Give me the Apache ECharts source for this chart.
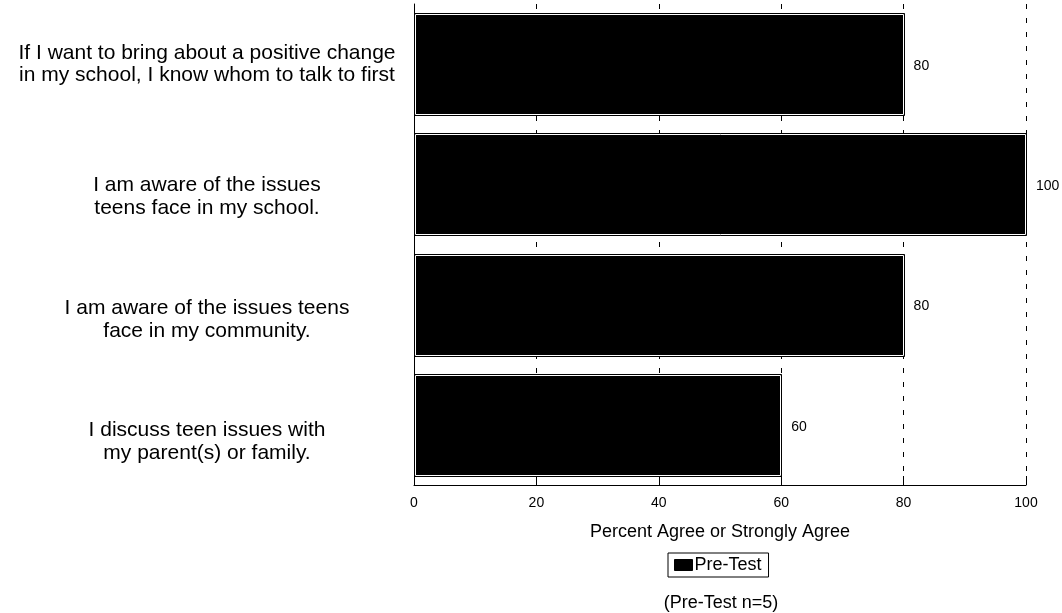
<!DOCTYPE html>
<html>
<head>
<meta charset="utf-8">
<script src="https://cdn.jsdelivr.net/npm/echarts@6/dist/echarts.min.js"></script>
<style>html,body{margin:0;padding:0;background:#fff}#c{width:1062px;height:613px}</style>
</head>
<body>
<div id="c"></div>
<script>
const categories = [
  "If I want to bring about a positive change\nin my school, I know whom to talk to first",
  "I am aware of the issues\nteens face in my school.",
  "I am aware of the issues teens\nface in my community.",
  "I discuss teen issues with\nmy parent(s) or family."
];
const preTest = [80, 100, 80, 60];
const seriesName = "Pre-Test";
const axisTitle = "Percent Agree or Strongly Agree";
const noteText = "(Pre-Test n=5)";
const labelShift = [0, 11, 14, 16];
const labelLineHeight = [23, 25, 25, 25];

const FONT = '"Liberation Sans", Arial, sans-serif';
const LBL = { fontFamily: FONT, fontSize: 21, color: '#000', align: 'center' };
const chart = echarts.init(document.getElementById('c'));

const rich = {};
labelShift.forEach((s, i) => {
  const L = labelLineHeight[i];
  rich['t' + i] = Object.assign({}, LBL, { lineHeight: L + 2 * s, verticalAlign: 'bottom' });
  rich['n' + i] = Object.assign({}, LBL, { lineHeight: L });
});

chart.setOption({
  animation: false,
  color: ['#000'],
  title: {
    text: noteText,
    left: 716, top: 589, textAlign: 'center',
    textStyle: { fontFamily: FONT, fontSize: 18, fontWeight: 'normal', color: '#000' }
  },
  legend: {
    data: [seriesName],
    left: 668, top: 553,
    borderColor: '#000', borderWidth: 1, borderRadius: 0,
    padding: [3, 7, 3, 6],
    itemWidth: 18, itemHeight: 11, icon: 'rect',
    itemStyle: { color: '#000', borderColor: '#000', borderWidth: 1 },
    textStyle: { fontFamily: FONT, fontSize: 18, color: '#000', padding: [0, 0, 0, -3] }
  },
  grid: { left: 414, right: 36, top: 4, bottom: 128, containLabel: false, outerBoundsMode: 'none' },
  xAxis: {
    type: 'value', min: 0, max: 100, interval: 20,
    name: axisTitle, nameLocation: 'middle', nameGap: 38,
    nameTextStyle: { fontFamily: FONT, fontSize: 18, color: '#000' },
    axisLine: { show: true, lineStyle: { color: '#000', width: 1 } },
    axisTick: { show: true, inside: true, length: 9, lineStyle: { color: '#000' } },
    axisLabel: { fontFamily: FONT, fontSize: 14, color: '#000', margin: 11 },
    splitLine: { show: true, lineStyle: { color: '#000', type: [5, 9], width: 1 } }
  },
  yAxis: {
    type: 'category', inverse: true,
    data: categories,
    axisLine: { show: true, lineStyle: { color: '#000', width: 1 } },
    axisTick: { show: false },
    axisLabel: {
      fontFamily: FONT, fontSize: 21, lineHeight: 23, color: '#000', align: 'center', margin: 207,
      formatter: function (value, index) {
        const lines = value.split('\n');
        return lines.map((l, k) => '{' + (k === 0 ? 't' : 'n') + index + '|' + l + '}').join('\n');
      },
      rich: rich
    },
    splitLine: { show: false }
  },
  series: [{
    name: seriesName,
    type: 'custom',
    itemStyle: { color: '#000' },
    encode: { x: 0, y: 1 },
    data: preTest.map((v, i) => [v, i]),
    renderItem: function (params, api) {
      const v = api.value(0), c = api.value(1);
      const p0 = api.coord([0, c]);
      const p1 = api.coord([v, c]);
      const band = api.size([0, 1])[1];
      const h = Math.round(band * 0.85);
      const x = Math.round(p0[0]) + 0.5;
      const y = Math.round(p0[1] - h / 2) + 0.5;
      const w = Math.round(p1[0]) - Math.round(p0[0]);
      return {
        type: 'group',
        children: [
          { type: 'rect', shape: { x: x, y: y, width: w, height: h }, style: { fill: '#000', stroke: '#000', lineWidth: 1 } },
          { type: 'rect', shape: { x: x + 1, y: y + 1, width: w - 2, height: h - 2 }, style: { fill: null, stroke: '#fff', lineWidth: 1 } },
          { type: 'text', x: p1[0] + 10, y: p1[1] + 2,
            style: { text: String(v), fill: '#000', font: '14px ' + FONT, align: 'left', verticalAlign: 'middle' } }
        ]
      };
    }
  }]
});
</script>
</body>
</html>
